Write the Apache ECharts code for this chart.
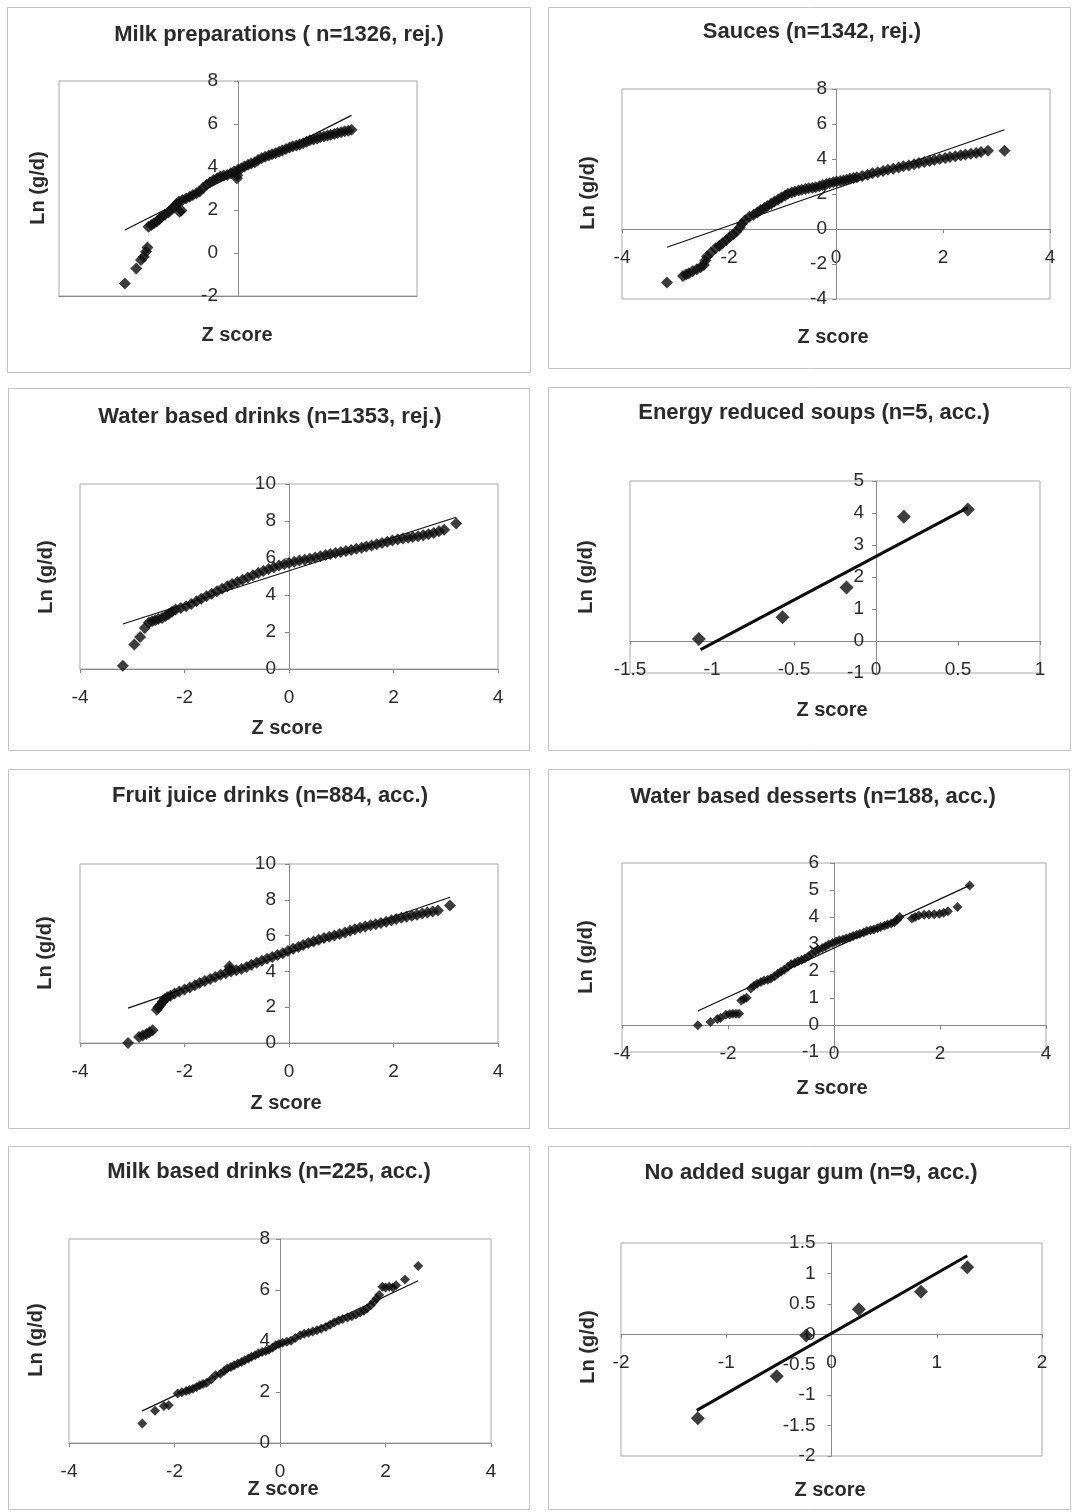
<!DOCTYPE html>
<html>
<head>
<meta charset="utf-8">
<script src="https://cdn.jsdelivr.net/npm/echarts@6/dist/echarts.min.js"></script>
</head>
<body style="margin:0;background:#fff">
<div id="container" style="width:1073px;height:1512px"></div>
<script>
// values: [z score, ln(g/d)]
const milkPrepPoints = [[-3.16,-1.42],[-2.84,-0.72],[-2.71,-0.33],[-2.63,-0.18],[-2.57,0.06],[-2.53,0.26],
  [-2.50,1.22],[-2.42,1.30],[-2.35,1.38],[-2.27,1.46],[-2.20,1.57],[-2.13,1.69],[-2.04,1.78],[-1.94,1.89],
  [-1.86,2.02],[-1.79,2.15],[-1.72,2.27],[-1.65,2.39],[-1.63,1.92],[-1.58,1.98],[-1.55,2.46],[-1.45,2.54],
  [-1.35,2.62],[-1.26,2.70],[-1.16,2.78],[-1.07,2.86],[-0.98,3.02],[-0.88,3.17],[-0.78,3.29],[-0.68,3.40],
  [-0.58,3.48],[-0.49,3.56],[-0.40,3.60],[-0.30,3.63],[-0.20,3.71],[-0.11,3.79],[-0.03,3.48],[-0.02,3.62],
  [0.00,3.87],[0.09,3.94],[0.18,4.02],[0.28,4.10],[0.37,4.16],[0.47,4.22],[0.56,4.32],[0.66,4.41],
  [0.76,4.48],[0.86,4.54],[0.95,4.59],[1.05,4.64],[1.15,4.71],[1.24,4.77],[1.34,4.84],[1.44,4.91],
  [1.53,4.96],[1.63,5.00],[1.72,5.05],[1.82,5.11],[1.92,5.18],[2.01,5.24],[2.11,5.28],[2.21,5.33],
  [2.30,5.38],[2.40,5.42],[2.50,5.46],[2.59,5.50],[2.69,5.54],[2.78,5.58],[2.88,5.62],[2.98,5.66],
  [3.08,5.69],[3.17,5.73]];
const milkPrepFit = [[-3.16,1.07],[3.17,6.40]];

const saucesPoints = [[-3.16,-3.06],[-2.86,-2.68],[-2.80,-2.60],[-2.75,-2.53],[-2.68,-2.42],[-2.60,-2.30],
  [-2.53,-2.18],[-2.47,-2.05],[-2.44,-1.80],[-2.41,-1.57],[-2.34,-1.35],[-2.25,-1.10],[-2.18,-0.95],
  [-2.12,-0.81],[-2.05,-0.63],[-1.99,-0.47],[-1.92,-0.30],[-1.86,-0.14],[-1.80,0.08],[-1.76,0.29],
  [-1.70,0.50],[-1.62,0.70],[-1.54,0.81],[-1.47,0.95],[-1.41,1.09],[-1.34,1.20],[-1.28,1.32],[-1.21,1.45],
  [-1.15,1.57],[-1.08,1.69],[-1.02,1.80],[-0.95,1.92],[-0.90,2.01],[-0.83,2.09],[-0.77,2.15],[-0.70,2.20],
  [-0.64,2.24],[-0.57,2.29],[-0.51,2.33],[-0.44,2.36],[-0.38,2.39],[-0.31,2.45],[-0.25,2.51],[-0.18,2.57],
  [-0.12,2.62],[-0.05,2.67],[0.01,2.72],[0.08,2.74],[0.14,2.77],[0.20,2.82],[0.26,2.87],[0.33,2.92],
  [0.39,2.96],[0.49,3.03],[0.59,3.10],[0.68,3.18],[0.78,3.25],[0.88,3.32],[0.97,3.38],[1.07,3.45],
  [1.17,3.52],[1.26,3.58],[1.36,3.63],[1.46,3.70],[1.55,3.77],[1.65,3.83],[1.75,3.88],[1.84,3.94],
  [1.94,4.00],[2.04,4.06],[2.13,4.11],[2.23,4.16],[2.33,4.21],[2.42,4.26],[2.52,4.30],[2.62,4.35],
  [2.71,4.40],[2.84,4.47],[3.15,4.47]];
const saucesFit = [[-3.16,-1.04],[3.15,5.67]];

const waterDrinksPoints = [[-3.18,0.18],[-2.96,1.32],[-2.85,1.73],[-2.76,2.22],[-2.68,2.52],[-2.62,2.58],
  [-2.56,2.63],[-2.50,2.70],[-2.43,2.76],[-2.36,2.87],[-2.30,2.97],[-2.24,3.09],[-2.17,3.21],[-2.07,3.30],
  [-1.97,3.39],[-1.87,3.52],[-1.77,3.66],[-1.68,3.80],[-1.58,3.93],[-1.48,4.07],[-1.38,4.20],[-1.28,4.34],
  [-1.18,4.47],[-1.09,4.59],[-0.99,4.70],[-0.89,4.83],[-0.79,4.95],[-0.69,5.07],[-0.59,5.19],[-0.49,5.30],
  [-0.39,5.41],[-0.29,5.50],[-0.19,5.59],[-0.09,5.66],[0.00,5.73],[0.10,5.80],[0.20,5.86],[0.30,5.91],
  [0.40,5.96],[0.50,6.03],[0.60,6.09],[0.70,6.16],[0.79,6.22],[0.89,6.27],[0.99,6.32],[1.09,6.38],
  [1.19,6.43],[1.29,6.50],[1.39,6.56],[1.48,6.62],[1.58,6.68],[1.68,6.75],[1.78,6.81],[1.88,6.88],
  [1.98,6.94],[2.08,7.00],[2.18,7.05],[2.28,7.10],[2.37,7.14],[2.47,7.18],[2.57,7.23],[2.67,7.29],
  [2.77,7.35],[2.87,7.44],[2.97,7.53],[3.20,7.86]];
const waterDrinksFit = [[-3.18,2.43],[3.20,8.20]];

const soupsPoints = [[-1.08,0.06],[-0.57,0.74],[-0.18,1.67],[0.17,3.88],[0.56,4.11]];
const soupsFit = [[-1.07,-0.27],[0.56,4.17]];

const fruitJuicePoints = [[-3.08,0.00],[-2.87,0.33],[-2.80,0.42],[-2.73,0.50],[-2.67,0.60],[-2.61,0.71],
  [-2.53,1.86],[-2.50,2.00],[-2.46,2.14],[-2.42,2.30],[-2.38,2.45],[-2.33,2.55],[-2.27,2.64],[-2.19,2.76],
  [-2.10,2.88],[-2.00,2.99],[-1.90,3.10],[-1.80,3.22],[-1.71,3.35],[-1.61,3.46],[-1.51,3.57],[-1.41,3.69],
  [-1.31,3.81],[-1.21,3.90],[-1.14,4.28],[-1.13,4.10],[-1.11,4.00],[-1.01,4.06],[-0.91,4.13],[-0.81,4.25],
  [-0.72,4.37],[-0.62,4.48],[-0.52,4.59],[-0.42,4.70],[-0.32,4.80],[-0.22,4.91],[-0.12,5.02],[-0.02,5.14],
  [0.08,5.26],[0.18,5.37],[0.27,5.48],[0.37,5.58],[0.47,5.67],[0.57,5.77],[0.67,5.86],[0.77,5.93],
  [0.87,6.00],[0.97,6.09],[1.07,6.17],[1.17,6.27],[1.26,6.36],[1.36,6.44],[1.46,6.51],[1.56,6.58],
  [1.66,6.64],[1.76,6.71],[1.86,6.78],[1.96,6.86],[2.05,6.93],[2.15,7.00],[2.25,7.06],[2.35,7.11],
  [2.45,7.16],[2.55,7.23],[2.65,7.29],[2.75,7.35],[2.85,7.40],[3.08,7.68]];
const fruitJuiceFit = [[-3.08,1.95],[3.08,8.14]];

const waterDessertsPoints = [[-2.57,-0.01],[-2.33,0.11],[-2.20,0.22],[-2.14,0.26],[-2.04,0.38],[-1.97,0.40],
  [-1.91,0.42],[-1.85,0.42],[-1.79,0.42],[-1.75,0.91],[-1.70,0.96],[-1.65,1.01],[-1.57,1.35],[-1.51,1.45],
  [-1.45,1.53],[-1.38,1.59],[-1.32,1.65],[-1.25,1.68],[-1.19,1.72],[-1.12,1.81],[-1.06,1.90],[-1.00,1.97],
  [-0.94,2.05],[-0.87,2.15],[-0.81,2.25],[-0.74,2.30],[-0.68,2.36],[-0.61,2.41],[-0.55,2.46],[-0.48,2.55],
  [-0.42,2.64],[-0.35,2.72],[-0.29,2.79],[-0.22,2.85],[-0.16,2.91],[-0.10,2.98],[-0.03,3.04],[0.04,3.09],
  [0.10,3.14],[0.17,3.17],[0.23,3.20],[0.30,3.25],[0.36,3.30],[0.43,3.34],[0.49,3.38],[0.56,3.43],
  [0.62,3.48],[0.69,3.51],[0.75,3.54],[0.82,3.58],[0.88,3.63],[0.95,3.68],[1.01,3.72],[1.08,3.76],
  [1.14,3.81],[1.19,3.90],[1.24,4.00],[1.47,3.94],[1.53,4.00],[1.60,4.06],[1.70,4.08],[1.79,4.09],
  [1.89,4.10],[1.99,4.12],[2.07,4.16],[2.15,4.21],[2.33,4.37],[2.56,5.17]];
const waterDessertsFit = [[-2.57,0.52],[2.56,5.17]];

const milkDrinksPoints = [[-2.61,0.76],[-2.37,1.26],[-2.20,1.45],[-2.11,1.48],[-1.94,1.94],[-1.86,1.99],
  [-1.78,2.04],[-1.72,2.08],[-1.65,2.13],[-1.58,2.20],[-1.52,2.26],[-1.46,2.31],[-1.39,2.36],[-1.30,2.50],
  [-1.22,2.66],[-1.13,2.72],[-1.06,2.82],[-1.00,2.92],[-0.93,2.98],[-0.87,3.05],[-0.80,3.12],[-0.73,3.18],
  [-0.67,3.25],[-0.60,3.31],[-0.54,3.38],[-0.47,3.44],[-0.41,3.51],[-0.34,3.57],[-0.27,3.61],[-0.21,3.66],
  [-0.14,3.75],[-0.08,3.83],[-0.02,3.88],[0.05,3.93],[0.13,3.97],[0.21,4.01],[0.29,4.12],[0.38,4.23],
  [0.46,4.28],[0.54,4.32],[0.62,4.37],[0.70,4.42],[0.78,4.48],[0.87,4.55],[0.95,4.64],[1.03,4.73],
  [1.11,4.80],[1.19,4.86],[1.28,4.92],[1.36,4.97],[1.44,5.04],[1.52,5.12],[1.59,5.19],[1.65,5.27],
  [1.72,5.40],[1.78,5.54],[1.83,5.67],[1.88,5.80],[1.94,6.13],[2.00,6.10],[2.07,6.13],[2.14,6.10],
  [2.20,6.19],[2.37,6.41],[2.62,6.94]];
const milkDrinksFit = [[-2.61,1.26],[2.62,6.36]];

const gumPoints = [[-1.27,-1.38],[-0.52,-0.69],[-0.24,-0.02],[0.26,0.41],[0.85,0.70],[1.29,1.10]];
const gumFit = [[-1.28,-1.25],[1.29,1.29]];

const titles = ['Milk preparations ( n=1326, rej.)', 'Sauces (n=1342, rej.)',
  'Water based drinks (n=1353, rej.)', 'Energy reduced soups (n=5, acc.)',
  'Fruit juice drinks (n=884, acc.)', 'Water based desserts (n=188, acc.)',
  'Milk based drinks (n=225, acc.)', 'No added sugar gum (n=9, acc.)'];

// layout of each panel
const panels = [
  { points: milkPrepPoints, fit: milkPrepFit, box: [7, 7, 523, 365], grid: [59, 81, 358, 215],
    x: [-5, 5, 1], y: [-2, 8, 2], xLabels: false, xOnZero: false, yMargin: 20, mark: 12, lw: 1.2,
    t: [279, 35], ln: [38, 188], zs: [237, 335] },
  { points: saucesPoints, fit: saucesFit, box: [548, 7, 522, 361], grid: [622, 89, 428, 210],
    x: [-4, 4, 2], y: [-4, 8, 2], xLabels: true, xOnZero: true, yMargin: 9, mark: 12, lw: 1.2,
    t: [812, 32], ln: [588, 193], zs: [833, 337] },
  { points: waterDrinksPoints, fit: waterDrinksFit, box: [8, 388, 521, 362], grid: [80, 484, 418, 185],
    x: [-4, 4, 2], y: [0, 10, 2], xLabels: true, xOnZero: true, yMargin: 13, mark: 12, lw: 1.2,
    t: [270, 417], ln: [46, 577], zs: [287, 728] },
  { points: soupsPoints, fit: soupsFit, box: [548, 387, 522, 363], grid: [630, 481, 410, 192],
    x: [-1.5, 1, 0.5], y: [-1, 5, 1], xLabels: true, xOnZero: true, yMargin: 12, mark: 14, lw: 3,
    t: [814, 413], ln: [586, 577], zs: [832, 710] },
  { points: fruitJuicePoints, fit: fruitJuiceFit, box: [8, 769, 521, 359], grid: [80, 864, 418, 179],
    x: [-4, 4, 2], y: [0, 10, 2], xLabels: true, xOnZero: true, yMargin: 13, mark: 12, lw: 1.2,
    t: [270, 796], ln: [45, 953], zs: [286, 1103] },
  { points: waterDessertsPoints, fit: waterDessertsFit, box: [548, 769, 521, 359], grid: [622, 863, 424, 189],
    x: [-4, 4, 2], y: [-1, 6, 1], xLabels: true, xOnZero: true, yMargin: 15, mark: 10, lw: 1.2,
    t: [813, 797], ln: [586, 957], zs: [832, 1088] },
  { points: milkDrinksPoints, fit: milkDrinksFit, box: [8, 1146, 521, 363], grid: [69, 1239, 422, 204],
    x: [-4, 4, 2], y: [0, 8, 2], xLabels: true, xOnZero: true, yMargin: 10, mark: 10, lw: 1.2,
    t: [269, 1172], ln: [36, 1340], zs: [283, 1489] },
  { points: gumPoints, fit: gumFit, box: [548, 1146, 522, 363], grid: [621, 1243, 421, 213],
    x: [-2, 2, 1], y: [-2, 1.5, 0.5], xLabels: true, xOnZero: true, yMargin: 16, mark: 14, lw: 3,
    t: [811, 1173], ln: [588, 1347], zs: [830, 1490] }
];

const textColor = '#2b2b2b';
const markColor = '#0d0d0d';
const axisColor = '#8a8a8a';
const fontFamily = '"Liberation Sans", Arial, sans-serif';

const dom = document.getElementById('container');
const myChart = echarts.init(dom);

const graphics = [];
panels.forEach(p => {
  graphics.push({
    type: 'rect', silent: true, z: -1,
    shape: { x: p.box[0] + 0.5, y: p.box[1] + 0.5, width: p.box[2], height: p.box[3] },
    style: { fill: 'none', stroke: '#c4c4c4', lineWidth: 1 }
  });
  graphics.push({
    type: 'text', x: p.ln[0], y: p.ln[1], rotation: Math.PI / 2,
    style: { text: 'Ln (g/d)', font: 'bold 20px ' + fontFamily, fill: textColor, align: 'center', verticalAlign: 'middle' }
  });
  graphics.push({
    type: 'text', x: p.zs[0], y: p.zs[1],
    style: { text: 'Z score', font: 'bold 20px ' + fontFamily, fill: textColor, align: 'center', verticalAlign: 'middle' }
  });
});

// axes cross at zero like Excel: shift each axis (with its labels) from the grid edge to the zero line
function xAxisOffset(p) {
  return p.xOnZero ? -(0 - p.y[0]) / (p.y[1] - p.y[0]) * p.grid[3] : 0;
}
function yAxisOffset(p) {
  return -(0 - p.x[0]) / (p.x[1] - p.x[0]) * p.grid[2];
}

const option = {
  animation: false,
  backgroundColor: '#ffffff',
  title: panels.map((p, i) => ({
    text: titles[i],
    left: p.t[0], top: p.t[1],
    textAlign: 'center', textVerticalAlign: 'middle',
    padding: 0,
    textStyle: { fontFamily: fontFamily, fontSize: 22, fontWeight: 'bold', color: textColor }
  })),
  grid: panels.map(p => ({
    left: p.grid[0], top: p.grid[1], width: p.grid[2], height: p.grid[3],
    show: true, borderColor: '#a9a9a9', borderWidth: 1, backgroundColor: 'transparent'
  })),
  xAxis: panels.map((p, i) => ({
    type: 'value', gridIndex: i, min: p.x[0], max: p.x[1], interval: p.x[2],
    position: 'bottom', offset: xAxisOffset(p),
    axisLine: { show: true, onZero: false, lineStyle: { color: axisColor, width: 1 } },
    axisTick: { show: p.xLabels, length: 4, lineStyle: { color: axisColor } },
    axisLabel: { show: p.xLabels, margin: 19, fontSize: 19, color: textColor, fontFamily: fontFamily,
      showMinLabel: true, showMaxLabel: true },
    splitLine: { show: false }
  })),
  yAxis: panels.map((p, i) => ({
    type: 'value', gridIndex: i, min: p.y[0], max: p.y[1], interval: p.y[2],
    position: 'left', offset: yAxisOffset(p),
    axisLine: { show: true, onZero: false, lineStyle: { color: axisColor, width: 1 } },
    axisTick: { show: true, length: 4, lineStyle: { color: axisColor } },
    axisLabel: { margin: p.yMargin, fontSize: 19, color: textColor, fontFamily: fontFamily,
      showMinLabel: true, showMaxLabel: true },
    splitLine: { show: false }
  })),
  series: panels.flatMap((p, i) => ([
    {
      type: 'scatter', xAxisIndex: i, yAxisIndex: i,
      symbol: 'diamond', symbolSize: p.mark,
      itemStyle: { color: markColor },
      data: p.points, silent: true
    },
    {
      type: 'line', xAxisIndex: i, yAxisIndex: i,
      symbol: 'none', silent: true,
      lineStyle: { color: markColor, width: p.lw },
      data: p.fit
    }
  ])),
  graphic: graphics
};

myChart.setOption(option);
</script>
</body>
</html>
